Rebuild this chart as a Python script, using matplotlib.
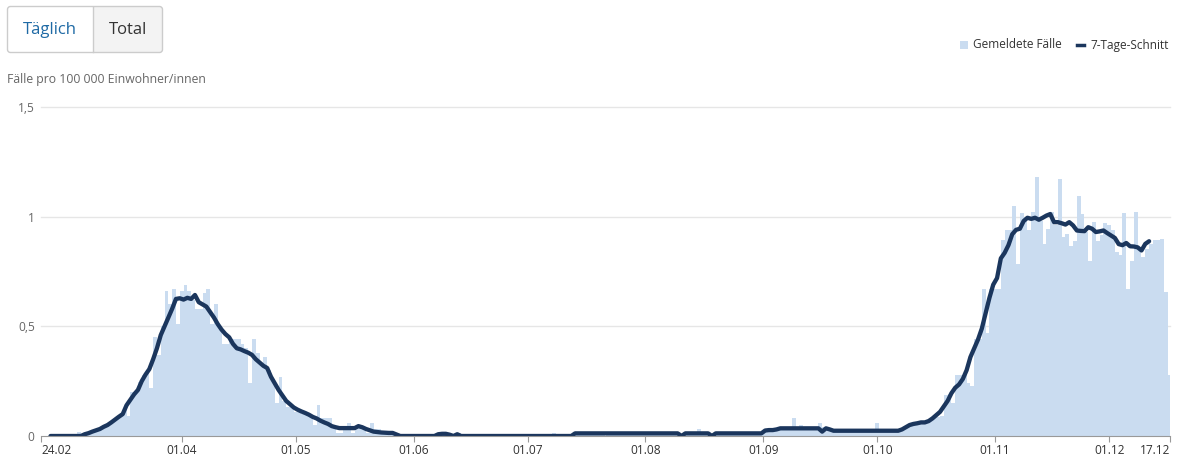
import datetime as dt

import numpy as np
import matplotlib.pyplot as plt
from matplotlib.patches import FancyBboxPatch, Rectangle

plt.rcParams['font.family'] = ['Open Sans', 'DejaVu Sans']

# reported cases per 100 000, one value per day from 25.02 to 17.12
cases = [
    0, 0, 0, 0, 0, 0, 0, 0, 0,
    0.016, 0.0, 0.012, 0.015, 0.02, 0.025, 0.035, 0.04, 0.05, 0.07,
    0.08, 0.1, 0.12, 0.09, 0.2, 0.2, 0.245, 0.28, 0.3, 0.22,
    0.45, 0.37, 0.5, 0.66, 0.6, 0.67, 0.51, 0.66, 0.69, 0.66,
    0.62, 0.58, 0.58, 0.65, 0.67, 0.51, 0.6, 0.5, 0.42, 0.42,
    0.44, 0.44, 0.44, 0.42, 0.40, 0.24, 0.44, 0.38, 0.33, 0.36,
    0.3, 0.26, 0.15, 0.27, 0.16, 0.13, 0.13, 0.11, 0.11, 0.1,
    0.1, 0.09, 0.05, 0.14, 0.08, 0.08, 0.08, 0.04, 0.015, 0.015,
    0.04, 0.06, 0.015, 0.04, 0.04, 0.03, 0.015, 0.06, 0.03, 0.03,
    0.02, 0.02, 0.02, 0.015, 0.01, 0.005, 0.0, 0.005, 0.0, 0.005,
    0.0, 0.0, 0.005, 0.0, 0.005, 0.012, 0.012, 0.01, 0.005, 0.0,
    0.012, 0.0, 0.0, 0.005, 0.0, 0.0, 0.005, 0.0, 0.0, 0.0,
    0.005, 0.0, 0.0, 0.0, 0.005, 0.0, 0.0, 0.0, 0.005, 0.0,
    0.0, 0.005, 0.0, 0.0, 0.0, 0.015, 0.0, 0.005, 0.0, 0.005,
    0.005, 0.012, 0.015, 0.01, 0.012, 0.015, 0.01, 0.012, 0.012, 0.015,
    0.01, 0.012, 0.015, 0.01, 0.012, 0.012, 0.01, 0.015, 0.012, 0.01,
    0.012, 0.015, 0.012, 0.01, 0.012, 0.015, 0.012, 0.01, 0.005, 0.005,
    0.012, 0.015, 0.012, 0.03, 0.012, 0.01, 0.008, 0.005, 0.012, 0.015,
    0.012, 0.01, 0.015, 0.012, 0.012, 0.01, 0.015, 0.012, 0.01, 0.012,
    0.015, 0.025, 0.03, 0.025, 0.03, 0.035, 0.03, 0.035, 0.08, 0.035,
    0.048, 0.035, 0.03, 0.035, 0.03, 0.058, 0.04, 0.03, 0.025, 0.025,
    0.02, 0.025, 0.025, 0.02, 0.025, 0.02, 0.025, 0.025, 0.02, 0.025,
    0.058, 0.025, 0.02, 0.025, 0.025, 0.02, 0.025, 0.03, 0.04, 0.05,
    0.055, 0.06, 0.06, 0.065, 0.07, 0.08, 0.085, 0.09, 0.185, 0.19,
    0.15, 0.276, 0.28, 0.28, 0.24, 0.226, 0.443, 0.443, 0.671, 0.469,
    0.67, 0.67, 0.67, 0.895, 0.937, 0.937, 1.047, 0.785, 1.016, 1.0,
    0.937, 1.02, 1.183, 0.98, 0.876, 0.945, 1.02, 0.96, 1.173, 0.906,
    0.92, 0.864, 0.888, 1.092, 1.013, 0.93, 0.797, 0.975, 0.888, 0.918,
    0.97, 0.96, 0.937, 0.838, 0.823, 1.016, 0.671, 0.8, 1.02, 0.849,
    0.815, 0.853, 0.876, 0.895, 0.895, 0.9, 0.656, 0.276,
]

# 7-day average, starting on the third day of the axis
avg = [
    0, 0, 0, 0, 0, 0, 0, 0, 0,
    0.008, 0.013, 0.02, 0.026, 0.032, 0.042, 0.05, 0.062, 0.075, 0.088,
    0.1, 0.14, 0.165, 0.19, 0.21, 0.25, 0.28, 0.305, 0.35, 0.4,
    0.46, 0.5, 0.54, 0.58, 0.625, 0.628, 0.622, 0.63, 0.625, 0.643,
    0.61, 0.6, 0.59, 0.565, 0.54, 0.51, 0.485, 0.465, 0.45, 0.42,
    0.4, 0.395, 0.387, 0.38, 0.37, 0.35, 0.335, 0.32, 0.31, 0.27,
    0.24, 0.21, 0.185, 0.16, 0.145, 0.13, 0.12, 0.112, 0.105, 0.097,
    0.087, 0.08, 0.07, 0.062, 0.055, 0.045, 0.04, 0.036, 0.036, 0.036,
    0.036, 0.036, 0.045, 0.04, 0.032, 0.026, 0.02, 0.018, 0.016, 0.015,
    0.014, 0.014, 0.007, 0, 0, 0, 0, 0, 0, 0,
    0, 0, 0, 0.008, 0.01, 0.01, 0.006, 0, 0.008, 0,
    0, 0, 0, 0, 0, 0, 0, 0, 0, 0,
    0, 0, 0, 0, 0, 0, 0, 0, 0, 0,
    0, 0, 0, 0, 0, 0, 0, 0, 0,
    0.012, 0.012, 0.012, 0.012, 0.012, 0.012, 0.012, 0.012, 0.012, 0.012,
    0.012, 0.012, 0.012, 0.012, 0.012, 0.012, 0.012, 0.012, 0.012, 0.012,
    0.012, 0.012, 0.012, 0.012, 0.012, 0.012, 0.012, 0.012,
    0,
    0.012, 0.012, 0.012, 0.012, 0.012, 0.012, 0.012,
    0,
    0.012, 0.012, 0.012, 0.012, 0.012, 0.012, 0.012, 0.012, 0.012, 0.012,
    0.012, 0.012, 0.012,
    0.025, 0.027, 0.027, 0.03,
    0.035, 0.035, 0.035, 0.035, 0.035, 0.035, 0.035, 0.035, 0.035, 0.035, 0.035,
    0.02, 0.035, 0.03,
    0.024, 0.024, 0.024, 0.024, 0.024, 0.024, 0.024, 0.024, 0.024, 0.024,
    0.024, 0.024, 0.024, 0.024, 0.024, 0.024, 0.024, 0.024,
    0.03, 0.04, 0.05, 0.055, 0.058, 0.062, 0.062, 0.068, 0.08, 0.095,
    0.11, 0.135, 0.16, 0.195, 0.22, 0.235, 0.26, 0.3, 0.36, 0.4,
    0.44, 0.49, 0.56, 0.63, 0.69, 0.72, 0.81, 0.835, 0.87, 0.92,
    0.94, 0.945, 0.98, 0.995, 0.99, 0.995, 0.986, 0.995, 1.005, 1.012,
    0.975, 0.975, 0.97, 0.964, 0.975, 0.96, 0.937, 0.935, 0.934, 0.952,
    0.945, 0.93, 0.933, 0.937, 0.925, 0.914, 0.903, 0.875, 0.87, 0.88,
    0.865, 0.864, 0.86, 0.846, 0.876, 0.888,
]

start = dt.date(2020, 2, 24)
end = dt.date(2020, 12, 17)
tick_dates = [dt.date(2020, 2, 24), dt.date(2020, 4, 1), dt.date(2020, 5, 1),
              dt.date(2020, 6, 1), dt.date(2020, 7, 1), dt.date(2020, 8, 1),
              dt.date(2020, 9, 1), dt.date(2020, 10, 1), dt.date(2020, 11, 1),
              dt.date(2020, 12, 1), dt.date(2020, 12, 17)]
tick_labels = ['24.02', '01.04', '01.05', '01.06', '01.07', '01.08',
               '01.09', '01.10', '01.11', '01.12', '17.12']
y_ticks = [0, 0.5, 1, 1.5]
y_labels = ['0', '0,5', '1', '1,5']

BAR = '#cadcf0'
NAVY = '#1b365d'
W, H = 1181, 468

fig = plt.figure(figsize=(W / 100, H / 100), dpi=100)
ax = fig.add_axes([41 / W, 32 / H, 1129 / W, 329 / H])

ax.bar(np.arange(len(cases)) + 1, cases, width=1.0, color=BAR, linewidth=0, zorder=2)
ax.plot(np.arange(len(avg)) + 2.5, avg, color=NAVY, lw=3.1,
        solid_capstyle='round', solid_joinstyle='round', zorder=3)

ax.set_xlim(0, (end - start).days)
ax.set_ylim(0, 1.5)
for y in y_ticks[1:]:
    ax.axhline(y, color='#e6e6e6', lw=1, zorder=1, clip_on=False)

for s in ['top', 'right', 'left']:
    ax.spines[s].set_visible(False)
ax.spines['bottom'].set_color('#999999')
ax.spines['bottom'].set_zorder(4)

ax.set_yticks(y_ticks)
ax.set_yticklabels(y_labels)
ax.tick_params(axis='y', length=0, pad=4.5, labelsize=8.6, labelcolor='#666666')
ax.set_xticks([(d - start).days for d in tick_dates])
ax.set_xticklabels(tick_labels)
ax.tick_params(axis='x', length=4, color='#999999', pad=1.5, labelsize=8.6, labelcolor='#333333')
xl = ax.get_xticklabels()
xl[0].set_ha('left')
xl[-1].set_ha('right')

# overlay in pixel coordinates for buttons, axis title and legend
ov = fig.add_axes([0, 0, 1, 1])
ov.set_xlim(0, W)
ov.set_ylim(H, 0)
ov.axis('off')
ov.patch.set_alpha(0)

ov.add_patch(FancyBboxPatch((7.5, 6.5), 155, 46, boxstyle='round,pad=0,rounding_size=3',
                            fc='white', ec='none'))
ov.add_patch(Rectangle((93, 7), 69, 45, fc='#f3f3f3', ec='none'))
ov.add_patch(FancyBboxPatch((7.5, 6.5), 155, 46, boxstyle='round,pad=0,rounding_size=3',
                            fc='none', ec='#cccccc', lw=1))
ov.plot([93, 93], [7, 52], color='#cccccc', lw=1)
ov.text(50, 30, 'Täglich', ha='center', va='center', fontsize=12, color='#1f6aa5')
ov.text(128, 30, 'Total', ha='center', va='center', fontsize=12, color='#333333')

ov.text(7, 79, 'Fälle pro 100 000 Einwohner/innen', ha='left', va='center',
        fontsize=8.8, color='#666666')

ov.add_patch(Rectangle((960, 41), 8, 8, fc=BAR, ec='none'))
ov.text(973, 45, 'Gemeldete Fälle', ha='left', va='center', fontsize=8.5, color='#333333')
ov.plot([1077, 1084], [45, 45], color=NAVY, lw=2.5)
ov.text(1090, 45, '7-Tage-Schnitt', ha='left', va='center', fontsize=8.5, color='#333333')

fig.savefig('out.png', dpi=100, facecolor='white')
